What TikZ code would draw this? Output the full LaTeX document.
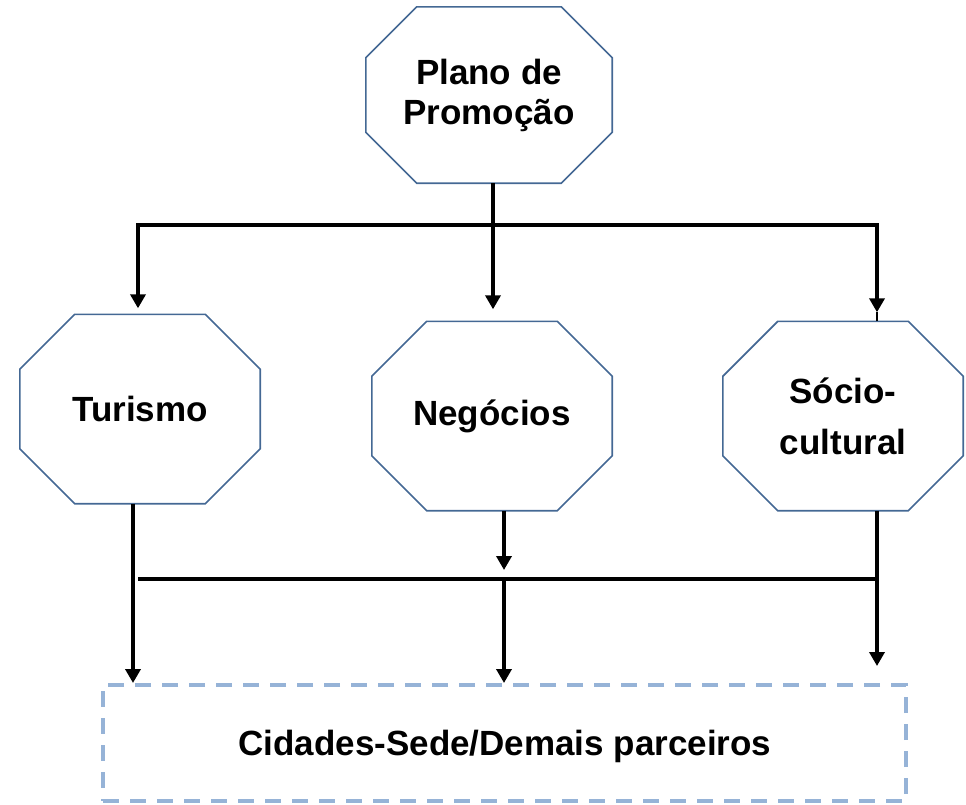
\documentclass[tikz,border=0pt]{standalone}
\usepackage{fontspec}
\setmainfont{Liberation Sans}
\usetikzlibrary{arrows.meta}
\definecolor{octline}{RGB}{68,104,148}
\definecolor{boxline}{RGB}{150,179,215}

\begin{document}
\begin{tikzpicture}[
    x = 1pt, y = -1pt,
    every node/.style = {
      font = \fontsize{35}{40}\selectfont\bfseries, align = center
    },
    octagon/.style = {
      inner sep = 0pt, minimum width = #1, minimum height = 189pt
    },
    octline/.style = { draw = octline, line width = 1.6pt },
    target/.style = {
      draw = boxline, line width = 4pt, dash pattern = on 16pt off 11pt,
      minimum width = 803pt, minimum height = 116pt
    },
    wire/.style = { line width = 3.5pt },
    arrow/.style = { wire, -{Triangle[width = 15pt, length = 14pt]} }
  ]
  \useasboundingbox (0, 0) rectangle (966, 804);

  \node[octagon = 246pt, minimum height = 176pt] (plan) at (489, 95)
    {Plano de\\Promoção};
  \node[octagon = 240pt] (tur) at (140, 409) {Turismo};
  \node[octagon = 240pt] (neg) at (492, 416) {Negócios};
  \node[octagon = 240pt] (soc) at (843, 416) {Sócio-\\[11pt]cultural};
  \node[target] (cid) at (504.5, 743) {};
  \node (cidtext) at (505, 746) {Cidades-Sede/Demais parceiros};

  % octagon outlines, corner cut \c
  \foreach \n/\c in {plan/51, tur/55, neg/55, soc/55}
    \draw[octline] ([xshift = \c pt]\n.north west)
      -- ([xshift = -\c pt]\n.north east) -- ([yshift = -\c pt]\n.north east)
      -- ([yshift = \c pt]\n.south east) -- ([xshift = -\c pt]\n.south east)
      -- ([xshift = \c pt]\n.south west) -- ([yshift = \c pt]\n.south west)
      -- ([yshift = -\c pt]\n.north west) -- cycle;

  % top bar
  \coordinate (barL) at (138, 225);
  \coordinate (barM) at (493, 225);
  \coordinate (barR) at (877, 225);
  \draw[wire] (barM |- plan.south) -- (barM);
  \draw[arrow, shorten > = 6pt] (barM) -- (barL) -- (barL |- tur.north);
  \draw[arrow, shorten > = 12pt] (barM) -- (barM |- neg.north);
  \draw[arrow, shorten > = 9pt] (barM) -- (barR) -- (barR |- soc.north);
  \draw[line width = 2pt] ([yshift = 9pt]barR |- soc.north) -- (barR |- soc.north);

  % bottom bar
  \coordinate (dropL) at (133, 579);
  \coordinate (botL) at (138, 579);
  \coordinate (botM) at (504, 579);
  \coordinate (botR) at (877, 579);
  \draw[wire] (botL) -- (botR);
  \draw[arrow] (dropL |- tur.south) -- (dropL |- cid.north);
  \draw[arrow, shorten > = 9pt] (botM |- neg.south) -- (botM);
  \draw[arrow] (botM) -- (botM |- cid.north);
  \draw[arrow, shorten > = 17pt] (botR |- soc.south) -- (botR |- cid.north);
\end{tikzpicture}
\end{document}
